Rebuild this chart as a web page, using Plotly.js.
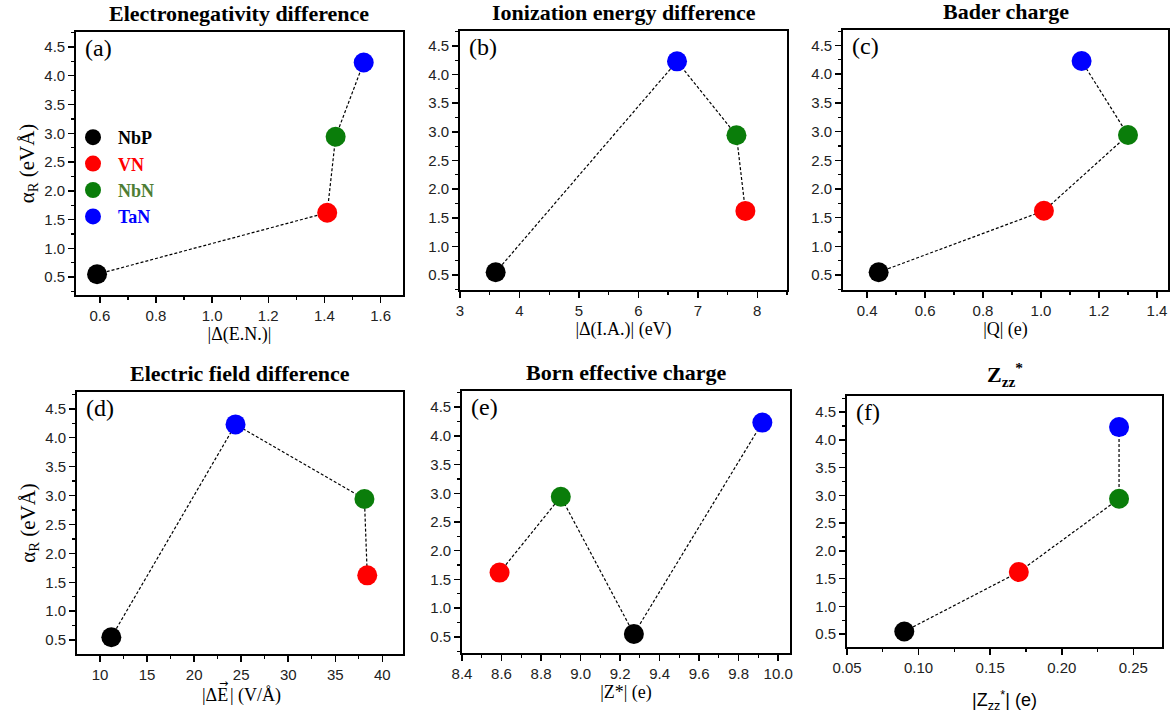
<!DOCTYPE html>
<html>
<head>
<meta charset="utf-8">
<script src="https://cdn.plot.ly/plotly-3.0.1.min.js"></script>
<style>html,body{margin:0;padding:0;background:#fff;}#chart{width:1172px;height:713px;}</style>
</head>
<body>
<div id="chart"></div>
<script>
// ---- data ----
const materials = ['NbP', 'VN', 'NbN', 'TaN'];
const alphaR = [0.55, 1.62, 2.94, 4.23];          // Rashba coefficient (eVÅ)
const dEN = [0.59, 1.41, 1.44, 1.54];             // |Δ(E.N.)|
const dIA = [3.6, 7.8, 7.65, 6.65];               // |Δ(I.A.)| (eV)
const baderQ = [0.44, 1.01, 1.30, 1.14];          // |Q| (e)
const dField = [11.2, 38.4, 38.1, 24.4];          // |ΔE| (V/Å)
const bornZ = [9.27, 8.59, 8.90, 9.92];           // |Z*| (e)
const bornZzz = [0.09, 0.17, 0.24, 0.24];         // |Z*zz| (e)
// order in which the dashed line joins the materials, per panel
const orderA = [0, 1, 2, 3];
const orderB = [0, 3, 2, 1];
const orderC = [0, 1, 2, 3];
const orderD = [0, 3, 2, 1];
const orderE = [1, 2, 0, 3];
const orderF = [0, 1, 2, 3];

// ---- styling ----
const markerColors = ['#000000', '#ff0000', '#0a7d0a', '#0000ff'];
const legendColors = ['#000000', '#ff0000', '#4e7d34', '#0000ff'];
const W = 1172, H = 713;
const serif = 'Liberation Serif, Times New Roman, serif';
const sans = 'Liberation Sans, Arial, sans-serif';

const panels = [
  {x: dEN, order: orderA, box: [76, 403, 32, 295], xr: [0.515, 1.68], yr: [0.19, 4.76], dt: 0.2, mdt: 0.1, fmt: '.1f',
   title: '<b>Electronegativity difference</b>', xt: '|Δ(E.N.)|', xfont: serif, label: '(a)', ytitle: true},
  {x: dIA, order: orderB, box: [460, 787, 31, 290], xr: [3, 8.5], yr: [0.24, 4.76], dt: 1, mdt: 0.5, fmt: 'd',
   title: '<b>Ionization energy difference</b>', xt: '|Δ(I.A.)| (eV)', xfont: serif, label: '(b)'},
  {x: baderQ, order: orderC, box: [843, 1168, 30, 290], xr: [0.317, 1.438], yr: [0.24, 4.77], dt: 0.2, mdt: 0.1, fmt: '.1f',
   title: '<b>Bader charge</b>', xt: '|Q| (e)', xfont: serif, label: '(c)'},
  {x: dField, order: orderD, box: [77, 403, 392, 654], xr: [7.55, 42.2], yr: [0.26, 4.79], dt: 5, mdt: 2.5, fmt: 'd',
   title: '<b>Electric field difference</b>', xt: '', xfont: serif, label: '(d)', ytitle: true},
  {x: bornZ, order: orderE, box: [462, 790, 391, 653], xr: [8.4, 10.06], yr: [0.22, 4.78], dt: 0.2, mdt: 0.1, fmt: '.1f',
   title: '<b>Born effective charge</b>', xt: '|Z*| (e)', xfont: serif, label: '(e)'},
  {x: bornZzz, order: orderF, box: [847, 1162, 396, 647], xr: [0.05, 0.27], yr: [0.27, 4.79], dt: 0.05, mdt: 0.025, fmt: '.2f',
   title: '<b>Z<sub>zz</sub><sup>*</sup></b>', xt: '|Z<sub>zz</sub><sup>*</sup>| (e)', xfont: sans, label: '(f)'}
];

const traces = [];
const layout = {
  width: W, height: H,
  margin: {l: 0, r: 0, t: 0, b: 0},
  paper_bgcolor: '#fff', plot_bgcolor: '#fff',
  showlegend: true,
  hovermode: false,
  legend: {
    x: 68 / W, y: 1 - 119 / H, xanchor: 'left', yanchor: 'top',
    bgcolor: 'rgba(0,0,0,0)', font: {family: serif, size: 18, color: '#000'},
    itemsizing: 'trace', itemwidth: 40, tracegroupgap: 0
  },
  annotations: []
};

panels.forEach((p, i) => {
  const n = i + 1;
  const xa = 'xaxis' + (n === 1 ? '' : n), ya = 'yaxis' + (n === 1 ? '' : n);
  const xr = 'x' + (n === 1 ? '' : n), yr = 'y' + (n === 1 ? '' : n);
  const [l, r, t, b] = p.box;
  layout[xa] = {
    domain: [l / W, r / W], range: p.xr, anchor: yr,
    showline: true, linecolor: '#000', linewidth: 1.8, mirror: true,
    ticks: 'outside', ticklen: 6, tickwidth: 1.5, tickcolor: '#000',
    dtick: p.dt, tick0: 0, tickformat: p.fmt,
    minor: {ticks: 'outside', ticklen: 3, tickwidth: 1.2, tickcolor: '#000', dtick: p.mdt, tick0: 0},
    showgrid: false, zeroline: false,
    tickfont: {family: sans, size: 15, color: '#222'},
    title: {text: p.xt, font: {family: p.xfont, size: 18, color: '#000'}, standoff: n === 6 ? 20 : 1}
  };
  layout[ya] = {
    domain: [1 - b / H, 1 - t / H], range: p.yr, anchor: xr,
    showline: true, linecolor: '#000', linewidth: 1.8, mirror: true,
    ticks: 'outside', ticklen: 6, tickwidth: 1.5, tickcolor: '#000',
    dtick: 0.5, tick0: 0, tickformat: '.1f',
    minor: {ticks: 'outside', ticklen: 3, tickwidth: 1.2, tickcolor: '#000', dtick: 0.25, tick0: 0},
    showgrid: false, zeroline: false,
    tickfont: {family: sans, size: 15, color: '#222'},
    title: p.ytitle ? {text: 'α<sub>R</sub> (eVÅ)', font: {family: serif, size: 21, color: '#000'}, standoff: 4} : {text: ''}
  };
  // dashed connector
  traces.push({
    type: 'scatter', mode: 'lines', xaxis: xr, yaxis: yr, showlegend: false,
    x: p.order.map(k => p.x[k]), y: p.order.map(k => alphaR[k]),
    line: {color: '#000', width: 1.2, dash: '3px,2px'}
  });
  // markers
  materials.forEach((m, k) => {
    traces.push({
      type: 'scatter', mode: 'markers', xaxis: xr, yaxis: yr,
      name: '<b><span style="color:' + legendColors[k] + '">' + m + '</span></b>',
      legendgroup: m, showlegend: n === 1,
      x: [p.x[k]], y: [alphaR[k]],
      marker: {size: 20, color: markerColors[k], line: {width: 0}}
    });
  });
  // panel title
  layout.annotations.push({
    xref: 'paper', yref: 'paper', x: ((l + r) / 2) / W, y: 1 - (t - 4) / H,
    xanchor: 'center', yanchor: 'bottom', showarrow: false,
    text: p.title, font: {family: serif, size: 22, color: '#000'}
  });
  // panel letter
  layout.annotations.push({
    xref: 'paper', yref: 'paper', x: (l + 7) / W, y: 1 - (t + 1) / H,
    xanchor: 'left', yanchor: 'top', showarrow: false,
    text: p.label, font: {family: serif, size: 24, color: '#000'}
  });
});

// x title of panel (d): |ΔE⃗| (V/Å) with a vector arrow over E
const splitX = 229, titleY = 695;
layout.annotations.push(
  {xref: 'paper', yref: 'paper', x: splitX / W, y: 1 - titleY / H, xanchor: 'right', yanchor: 'middle',
   showarrow: false, borderpad: 0, text: '|ΔE', font: {family: serif, size: 18, color: '#000'}},
  {xref: 'paper', yref: 'paper', x: splitX / W, y: 1 - titleY / H, xanchor: 'left', yanchor: 'middle',
   showarrow: false, borderpad: 0, text: '| (V/Å)', font: {family: serif, size: 18, color: '#000'}},
  {xref: 'paper', yref: 'paper', x: (splitX - 6) / W, y: 1 - (titleY - 12) / H, xanchor: 'center', yanchor: 'middle',
   showarrow: false, borderpad: 0, text: '→', font: {family: 'DejaVu Sans, sans-serif', size: 11, color: '#000'}}
);

Plotly.newPlot('chart', traces, layout, {displayModeBar: false, staticPlot: true});
</script>
</body>
</html>
